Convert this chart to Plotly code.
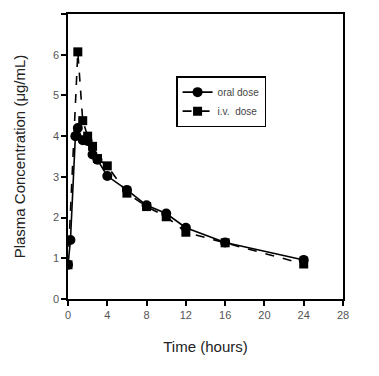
import plotly.graph_objects as go

oral_t = [0, 0.25, 0.75, 1.0, 1.5, 2.0, 2.5, 3.0, 4.0, 6.0, 8.0, 10.0, 12.0, 16.0, 24.0]
oral_c = [0.84, 1.45, 4.0, 4.2, 3.9, 3.88, 3.55, 3.42, 3.02, 2.68, 2.3, 2.1, 1.75, 1.39, 0.96]
iv_t = [0, 1.0, 1.5, 2.0, 2.5, 3.0, 4.0, 6.0, 8.0, 10.0, 12.0, 16.0, 24.0]
iv_c = [0.84, 6.07, 4.38, 4.0, 3.75, 3.45, 3.27, 2.6, 2.27, 2.02, 1.64, 1.38, 0.86]
x_ticks = [0, 4, 8, 12, 16, 20, 24, 28]
y_ticks = [0, 1, 2, 3, 4, 5, 6, 7]

fig = go.Figure()
fig.add_trace(go.Scatter(x=oral_t, y=oral_c, name="oral dose", mode="lines+markers",
                         line=dict(color="black", width=1.6),
                         marker=dict(symbol="circle", size=10, color="black")))
fig.add_trace(go.Scatter(x=iv_t, y=iv_c, name="i.v.  dose", mode="lines+markers",
                         line=dict(color="black", width=1.6, dash="dash"),
                         marker=dict(symbol="square", size=9, color="black")))

axis_common = dict(showline=True, linecolor="black", linewidth=1.5, mirror=True,
                   ticks="outside", ticklen=5, tickwidth=1.5, tickcolor="black",
                   showgrid=False, zeroline=False, automargin=False,
                   tickfont=dict(family="Liberation Sans, Arial", size=11, color="#555"))

fig.update_layout(
    width=371, height=368,
    margin=dict(l=60, r=36, t=6, b=77),
    paper_bgcolor="white", plot_bgcolor="white",
    font=dict(family="Liberation Sans, Arial", color="black"),
    xaxis=dict(range=[0, 28], tickvals=x_ticks,
               title=dict(text="Time (hours)", font=dict(size=15, color="#222"), standoff=22),
               **axis_common),
    yaxis=dict(range=[0, 7], tickvals=y_ticks,
               title=dict(text="Plasma Concentration (μg/mL)", font=dict(size=15, color="#222"), standoff=24),
               **axis_common),
    legend=dict(x=0.393, y=0.782, xanchor="left", yanchor="top",
                bordercolor="black", borderwidth=1.5, bgcolor="white",
                font=dict(size=10, color="#444"), tracegroupgap=0,
                itemwidth=30),
    showlegend=True,
)
fig.write_html("out.html")
